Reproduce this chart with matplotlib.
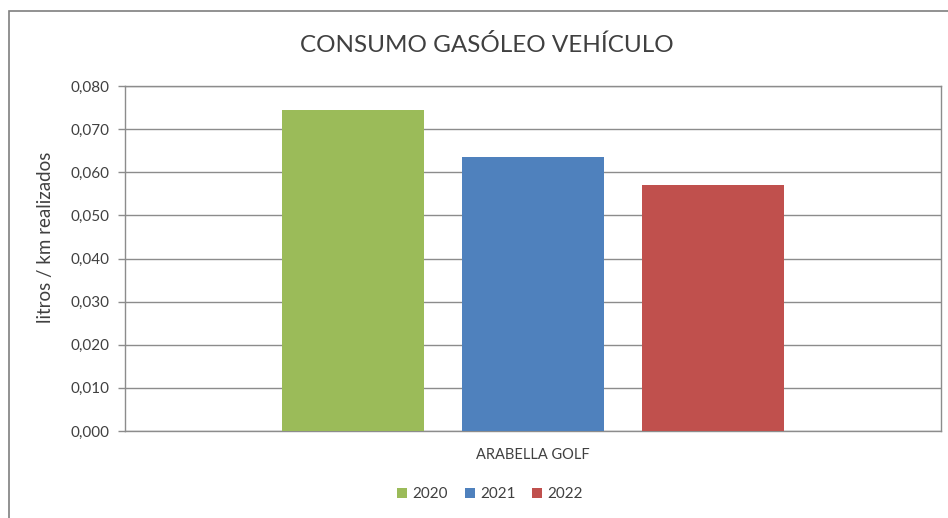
import matplotlib
matplotlib.use("Agg")
import matplotlib.pyplot as plt
from matplotlib.patches import Rectangle
from matplotlib.ticker import FuncFormatter, MultipleLocator

plt.rcParams["font.family"] = ["Lato", "DejaVu Sans"]

# data
category = "ARABELLA GOLF"
years = ["2020", "2021", "2022"]
values = [0.0745, 0.0636, 0.0570]
colors = ["#9BBB59", "#4F81BD", "#C0504D"]

GRID = "#8c8c8c"
TEXT = "#404040"

fig = plt.figure(figsize=(9.48, 5.18), dpi=100)
fig.patch.set_facecolor("white")

# chart-area border (only left and top edges fall inside the picture)
fig.add_artist(Rectangle((8.5 / 948, -0.1), 1.2, 1 - 10.5 / 518 + 0.1,
                         transform=fig.transFigure, fill=False,
                         edgecolor="#7f7f7f", linewidth=1.2))

ax = fig.add_axes([125 / 948, 1 - 431 / 518, 816 / 948, 345 / 518])

offsets = [-0.2206, 0.0, 0.2206]
width = 0.174
for off, val, col, yr in zip(offsets, values, colors, years):
    ax.bar(off, val, width=width, color=col, label=yr, zorder=3)

ax.set_xlim(-0.5, 0.5)
ax.set_ylim(0, 0.08)
ax.yaxis.set_major_locator(MultipleLocator(0.01))
ax.yaxis.set_major_formatter(FuncFormatter(lambda v, p: f"{v:.3f}".replace(".", ",")))
ax.grid(axis="y", color=GRID, linewidth=1.0, zorder=0)
ax.set_xticks([0])
ax.set_xticklabels([category])
ax.tick_params(axis="x", length=0, pad=12, labelsize=10.5, colors=TEXT)
ax.tick_params(axis="y", length=5, width=1, color=GRID, pad=6, labelsize=11, colors=TEXT)
for sp in ax.spines.values():
    sp.set_color(GRID)
    sp.set_linewidth(1.0)

ax.set_ylabel("litros / km realizados", fontsize=13.5, color=TEXT)
ax.yaxis.set_label_coords(-0.087, 0.56)

fig.text(487 / 948, 1 - 45 / 518, "CONSUMO GASÓLEO VEHÍCULO",
         ha="center", va="center", fontsize=17.5, color=TEXT)

fig.legend(loc="center", bbox_to_anchor=(490 / 948, 1 - 494 / 518), ncol=3,
           frameon=False, fontsize=11, handlelength=0.65, handleheight=0.65,
           handletextpad=0.35, columnspacing=1.1, labelcolor=TEXT)

fig.savefig("out.png", dpi=100, facecolor="white")
